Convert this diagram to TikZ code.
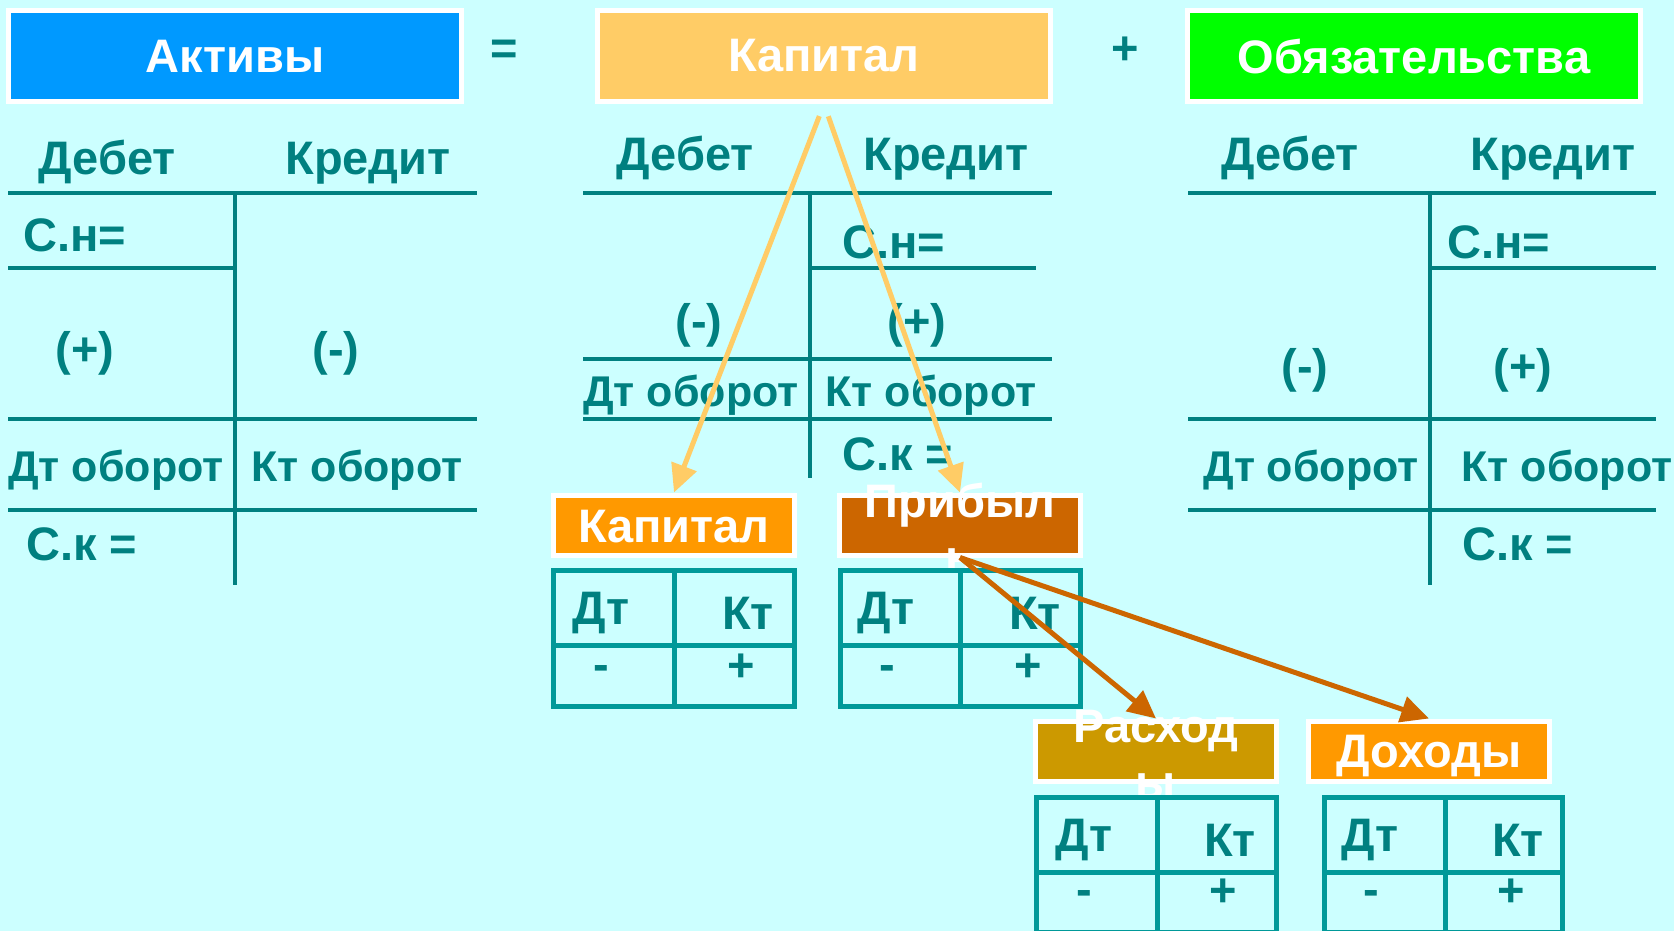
\documentclass[tikz,border=0pt]{standalone}
\usepackage{fontspec}
\setmainfont{Liberation Sans}
\usetikzlibrary{arrows.meta}

\definecolor{bgcol}{HTML}{CCFFFF}
\definecolor{acct}{HTML}{008080}
\definecolor{cellcol}{HTML}{009999}
\definecolor{assets}{HTML}{0099FF}
\definecolor{equity}{HTML}{FFCC66}
\definecolor{liab}{HTML}{00FF00}
\definecolor{capsmall}{HTML}{FF9900}
\definecolor{profit}{HTML}{CC6600}
\definecolor{costs}{HTML}{CC9900}
\definecolor{income}{HTML}{FF9900}

\tikzset{
  head/.style={draw=white, line width=5pt, minimum width=453pt, minimum height=91pt,
    inner sep=0pt, text=white, font=\fontsize{47}{56}\selectfont\bfseries},
  tag/.style={draw=white, line width=5pt, minimum width=241pt, minimum height=60pt, inner sep=0pt},
  tagtext/.style={text=white, align=center, inner sep=0pt, font=\fontsize{47}{56}\selectfont\bfseries},
  acctext/.style={text=acct, inner sep=0pt, font=\fontsize{47}{56}\selectfont\bfseries},
  turnover/.style={acctext, font=\fontsize{43}{51}\selectfont\bfseries},
  tline/.style={acct, line width=4pt},
  cellline/.style={cellcol, line width=5pt},
}

\begin{document}
\begin{tikzpicture}[x=1pt, y=-1pt]
\useasboundingbox (0,0) rectangle (1674,931);
\fill[bgcol] (0,0) rectangle (1674,931);
\clip (0,0) rectangle (1674,931);

% Define nodes
\path
(235,56) node[head, fill=assets] (assets) {Активы}
(824,56) node[head, fill=equity] (equity) {Капитал}
(1414,56) node[head, fill=liab] (liab) {Обязательства}
;
\path[every node/.style={acctext}]
(504,52) node (eq) {=}
(1125,51) node (plus) {+}
;

% T-account: assets
\draw[tline] (8,193) -- (477,193) (235,193) -- (235,585) (8,268) -- (235,268)
(8,419) -- (477,419) (8,510) -- (477,510);
\path[every node/.style={acctext}]
(107,175) node[anchor=base] (aDeb) {Дебет}
(368,175) node[anchor=base] (aCred) {Кредит}
(23,235) node[anchor=west] (aOpen) {С.н=}
(85,353) node (aPlus) {(+)}
(336,353) node (aMinus) {(-)}
(116,470) node[turnover] (aDt) {Дт оборот}
(357,470) node[turnover] (aKt) {Кт оборот}
(26,544) node[anchor=west] (aClose) {С.к =}
;

% T-account: equity
\draw[tline] (583,193) -- (1052,193) (810,193) -- (810,478) (810,268) -- (1036,268)
(583,359) -- (1052,359) (583,419) -- (1052,419);
\path[every node/.style={acctext}]
(685,171) node[anchor=base] (eDeb) {Дебет}
(946,171) node[anchor=base] (eCred) {Кредит}
(842,242) node[anchor=west] (eOpen) {С.н=}
(699,325) node (eMinus) {(-)}
(917,325) node (ePlus) {(+)}
(691,395) node[turnover] (eDt) {Дт оборот}
(931,395) node[turnover] (eKt) {Кт оборот}
(842,454) node[anchor=west] (eClose) {С.к =}
;

% T-account: liabilities
\draw[tline] (1188,193) -- (1656,193) (1430,193) -- (1430,585) (1430,268) -- (1656,268)
(1188,419) -- (1656,419) (1188,510) -- (1656,510);
\path[every node/.style={acctext}]
(1290,171) node[anchor=base] (lDeb) {Дебет}
(1553,171) node[anchor=base] (lCred) {Кредит}
(1447,242) node[anchor=west] (lOpen) {С.н=}
(1305,370) node (lMinus) {(-)}
(1523,370) node (lPlus) {(+)}
(1311,470) node[turnover] (lDt) {Дт оборот}
(1567,470) node[turnover] (lKt) {Кт оборот}
(1462,544) node[anchor=west] (lClose) {С.к =}
;

% Small accounts
\path
(674,525) node[tag, fill=capsmall] (cap) {}
(960,525) node[tag, fill=profit] (prof) {}
(1156,751) node[tag, fill=costs] (cost) {}
(1429,751) node[tag, fill=income] (inc) {}
;
\path[every node/.style={tagtext}]
(674,527) node (capText) {Капитал}
(960,528) node (profText) {Прибыл\\ь}
(1156,754) node (costText) {Расход\\ы}
(1429,756) node (incText) {Доходы}
;

\draw[cellline] (553.5,570) rectangle (794.5,706) (674,570) -- (674,706) (553.5,645) -- (794.5,645);
\draw[cellline] (840.5,570) rectangle (1080.5,706) (960,570) -- (960,706) (840.5,645) -- (1080.5,645);
\draw[cellline] (1036.5,797) rectangle (1276.5,932) (1157,797) -- (1157,932) (1036.5,872) -- (1276.5,872);
\draw[cellline] (1324.5,797) rectangle (1562.5,932) (1445,797) -- (1445,932) (1324.5,872) -- (1562.5,872);

\path[every node/.style={acctext}]
(601,613) node (capDt) {Дт}
(748,613) node (capKt) {Кт}
(601,673) node (capDeb) {-}
(741,668) node (capCred) {+}
(886,613) node (profDt) {Дт}
(1035,613) node (profKt) {Кт}
(887,673) node (profDeb) {-}
(1028,668) node (profCred) {+}
(1084,840) node (costDt) {Дт}
(1230,840) node (costKt) {Кт}
(1084,898) node (costDeb) {-}
(1223,893) node (costCred) {+}
(1370,840) node (incDt) {Дт}
(1518,840) node (incKt) {Кт}
(1371,898) node (incDeb) {-}
(1511,893) node (incCred) {+}
;

% Arrows
\begin{scope}[line width=5pt, -{Triangle[length=28pt, width=26pt]}]
\draw[equity, shorten <=13pt] (equity.south) -- (cap.north);
\draw[equity, shorten <=13pt] (equity.south) -- (prof.north);
\draw[profit] (prof.south) -- (cost.north);
\draw[profit] (prof.south) -- (inc.north);
\end{scope}

\end{tikzpicture}
\end{document}
